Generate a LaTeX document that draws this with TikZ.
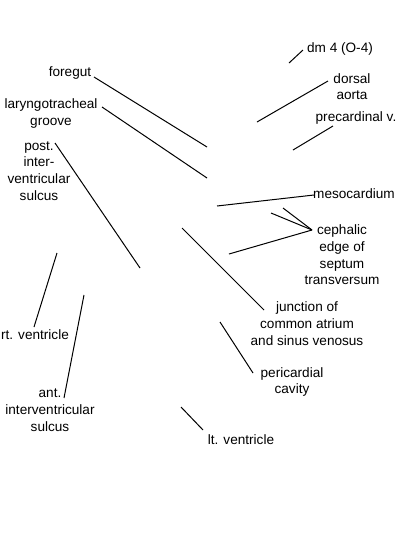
\documentclass[tikz,border=0pt]{standalone}
\usepackage{fontspec}
\setmainfont{Liberation Sans}
\begin{document}
\begin{tikzpicture}[x=1pt,y=-1pt,
  lbl/.style={align=center,inner sep=0pt,font=\fontsize{13.6}{16.7}\selectfont},
  ldr/.style={draw=black,line width=1pt}]
\useasboundingbox (0,0) rectangle (400,550);
% labels
\node[lbl] (dm) at (340,49) {dm 4 (O-4)};
\node[lbl] (dors) at (352,86.5) {dorsal\\aorta};
\node[lbl] (prec) at (356,118) {precardinal v.};
\node[lbl] (meso) at (354,194) {mesocardium};
\node[lbl] (ceph) at (342,255) {cephalic\\edge of\\septum\\transversum};
\node[lbl] (junc) at (307,323.5) {junction of\\common atrium\\and sinus venosus};
\node[lbl] (peri) at (292,382) {pericardial\\cavity};
\node[lbl] (ltv) at (241,440) {lt. ventricle};
\node[lbl] (fore) at (70,73) {foregut};
\node[lbl] (lary) at (51,113.5) {laryngotracheal\\groove};
\node[lbl] (post) at (39,171) {post.\\inter-\\ventricular\\sulcus};
\node[lbl] (rtv) at (35,335) {rt. ventricle};
\node[lbl] (ant) at (50,410) {ant.\\interventricular\\sulcus};
% leader ends
\coordinate (dmA) at (303,50);   \coordinate (dmB) at (289,63);
\coordinate (doA) at (328,81);   \coordinate (doB) at (257,122);
\coordinate (prA) at (333,126);  \coordinate (prB) at (293,150);
\coordinate (meA) at (314,195);  \coordinate (meB) at (217,206);
\coordinate (ceA) at (312,230);
\coordinate (ceB) at (283,208);  \coordinate (ceC) at (271,213); \coordinate (ceD) at (229,254);
\coordinate (juA) at (264,310);  \coordinate (juB) at (182,228);
\coordinate (peA) at (253,373);  \coordinate (peB) at (220,322);
\coordinate (ltA) at (203,430);  \coordinate (ltB) at (181,407);
\coordinate (foA) at (94,77);    \coordinate (foB) at (207,147);
\coordinate (laA) at (102,107);  \coordinate (laB) at (207,178);
\coordinate (poA) at (55,143);   \coordinate (poB) at (140,268);
\coordinate (rtA) at (34,327);   \coordinate (rtB) at (57,253);
\coordinate (anA) at (64,398);   \coordinate (anB) at (84,295);
% leaders
\draw[ldr] (dmA) -- (dmB);
\draw[ldr] (doA) -- (doB);
\draw[ldr] (prA) -- (prB);
\draw[ldr] (meA) -- (meB);
\draw[ldr] (ceA) -- (ceB);
\draw[ldr] (ceA) -- (ceC);
\draw[ldr] (ceA) -- (ceD);
\draw[ldr] (juA) -- (juB);
\draw[ldr] (peA) -- (peB);
\draw[ldr] (ltA) -- (ltB);
\draw[ldr] (foA) -- (foB);
\draw[ldr] (laA) -- (laB);
\draw[ldr] (poA) -- (poB);
\draw[ldr] (rtA) -- (rtB);
\draw[ldr] (anA) -- (anB);
\end{tikzpicture}
\end{document}
